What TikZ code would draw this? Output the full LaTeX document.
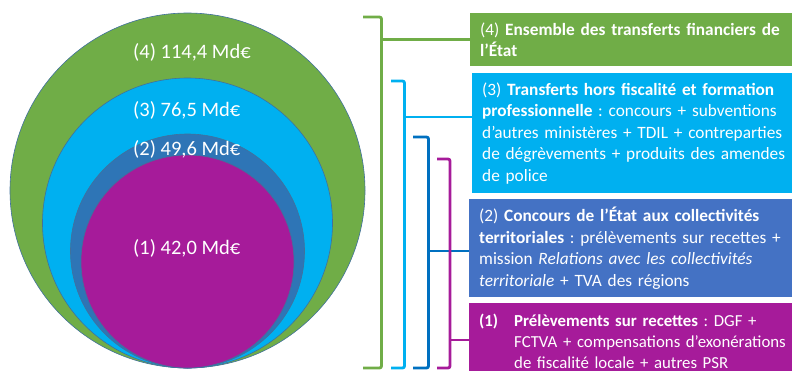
\documentclass[tikz,border=0pt]{standalone}
\usepackage{fontspec}
\setmainfont{Carlito}
\definecolor{cgreen}{HTML}{70AD47}
\definecolor{clblue}{HTML}{00B0F0}
\definecolor{cdblue}{HTML}{2E75B6}
\definecolor{cboxtwo}{HTML}{4472C4}
\definecolor{cbrtwo}{HTML}{0070C0}
\definecolor{cmag}{HTML}{A61B9A}
\definecolor{cedge}{HTML}{41719C}
\frenchspacing
\begin{document}
\begin{tikzpicture}[x=1pt,y=-1pt,
  disc/.style={draw=cedge, line width=0.6pt},
  clabel/.style={text=white, anchor=west, font=\fontsize{20.5}{24}\selectfont, inner sep=0pt},
  infobox/.style={anchor=north west, text=white, align=left, text width=360pt,
    inner xsep=10pt, inner ysep=0pt, minimum height=#1, font=\fontsize{17.3}{21.5}\selectfont},
  brk/.style={line width=2.8pt, rounded corners=2pt},
  stem/.style={line width=2.8pt},
]
\useasboundingbox (0,0) rectangle (792,370);
\clip (0,0) rectangle (792,370);

% nested discs
\path[disc, fill=cgreen] (187.5,190.5) circle (177.5pt);
\path[disc, fill=clblue] (187.5,223) circle (145pt);
\path[disc, fill=cdblue] (187.5,251) circle (117pt);
\path[disc, fill=cmag] (187.5,261.5) circle (106.5pt);

\node[clabel] (l4) at (133,52) {(4) 114,4 Md€};
\node[clabel] (l3) at (133,110) {(3) 76,5 Md€};
\node[clabel] (l2) at (133,149) {(2) 49,6 Md€};
\node[clabel] (l1) at (133,248) {(1) 42,0 Md€};

% boxes
\node[infobox=53pt, fill=cgreen] (b4) at (470,13)
  {(4) \textbf{Ensemble des transferts financiers de}\\\textbf{l’État}};
\node[infobox=120pt, fill=clblue] (b3) at (472,73)
  {(3) \textbf{Transferts hors fiscalité et formation}\\\textbf{professionnelle} : concours + subventions\\d’autres ministères + TDIL + contreparties\\de dégrèvements + produits des amendes\\de police};
\node[infobox=98pt, fill=cboxtwo] (b2) at (469,199)
  {(2) \textbf{Concours de l’État aux collectivités}\\\textbf{territoriales} : prélèvements sur recettes +\\mission \textit{Relations avec les collectivités}\\\textit{territoriale} + TVA des régions};
\node[infobox=77pt, fill=cmag, font=\fontsize{16.8}{21}\selectfont] (b1) at (469,303)
  {\makebox[35pt][l]{\textbf{(1)}}\textbf{Prélèvements sur recettes} : DGF +\\\hspace*{35pt}FCTVA + compensations d’exonérations\\\hspace*{35pt}de fiscalité locale + autres PSR};

% brackets
\coordinate (g1) at (363,17);  \coordinate (g2) at (381.5,17);
\coordinate (g3) at (381.5,368); \coordinate (g4) at (363,368);
\coordinate (gs) at (381.5,39.5);
\draw[brk, cgreen] (g1) -- (g2) -- (g3) -- (g4);
\draw[stem, cgreen] (gs) -- (gs -| b4.west);

\coordinate (c1) at (391,81);  \coordinate (c2) at (404.5,81);
\coordinate (c3) at (404.5,368); \coordinate (c4) at (391,368);
\coordinate (cs) at (404.5,117);
\draw[brk, clblue] (c1) -- (c2) -- (c3) -- (c4);
\draw[stem, clblue] (cs) -- (cs -| b3.west);

\coordinate (d1) at (413,137);  \coordinate (d2) at (428.5,137);
\coordinate (d3) at (428.5,368); \coordinate (d4) at (413,368);
\coordinate (ds) at (428.5,251);
\draw[brk, cbrtwo] (d1) -- (d2) -- (d3) -- (d4);
\draw[stem, cbrtwo] (ds) -- (ds -| b2.west);

\coordinate (m1) at (437,159);  \coordinate (m2) at (450,159);
\coordinate (m3) at (450,368); \coordinate (m4) at (437,368);
\coordinate (ms) at (450,340);
\draw[brk, cmag] (m1) -- (m2) -- (m3) -- (m4);
\draw[stem, cmag] (ms) -- (ms -| b1.west);
\end{tikzpicture}
\end{document}
